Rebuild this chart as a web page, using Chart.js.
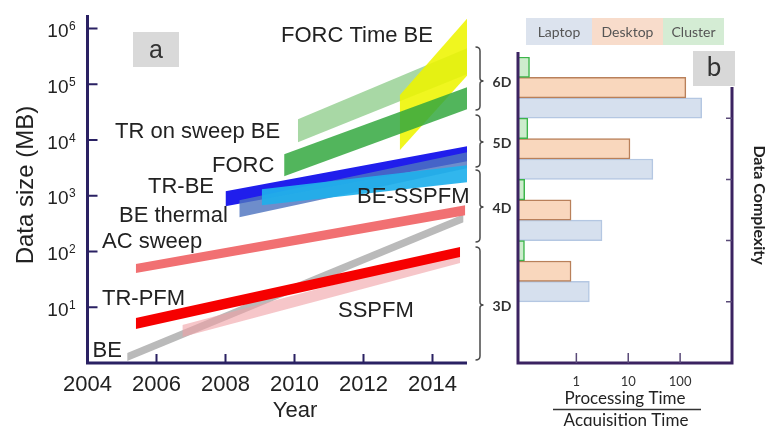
<!DOCTYPE html>
<html>
<head>
<meta charset="utf-8">
<script src="https://cdn.jsdelivr.net/npm/chart.js@4.4.1/dist/chart.umd.min.js"></script>
<style>
  html, body { margin: 0; padding: 0; background: #ffffff; }
  #wrap { position: relative; width: 766px; height: 426px; overflow: hidden; }
  #wrap canvas { position: absolute; left: 0; top: 0; }
</style>
</head>
<body>
<div id="wrap">
  <canvas id="growth" width="766" height="426"></canvas>
  <canvas id="speed" width="766" height="426"></canvas>
</div>
<script>
// ---------- Panel a: data size of each technique over the years ----------
const yearTicks = [2004, 2006, 2008, 2010, 2012, 2014];
const sizeTicks = [10, 100, 1000, 10000, 100000, 1000000];

// listed from the band drawn on top to the band drawn underneath
const bandNames = ['FORC', 'FORC Time BE', 'TR on sweep BE', 'BE-SSPFM', 'BE thermal',
                   'TR-BE', 'AC sweep', 'TR-PFM', 'SSPFM', 'BE'];
const bandYears = [[2009.7, 2015], [2013.05, 2015], [2010.1, 2015], [2009.05, 2015], [2008.4, 2015],
                   [2008, 2015], [2005.4, 2014.95], [2005.4, 2014.8], [2006.75, 2014.8], [2005.15, 2014.9]];
const bandLow  = [[2245, 35600], [6560, 143000], [9140, 151000], [679, 1753], [413, 3125],
                  [651, 4170], [41, 449], [4.07, 79.4], [2.92, 62], [1.09, 336]];
const bandHigh = [[5570, 88400], [63500, 1500000], [23600, 442000], [1313, 3535], [834, 6040],
                  [1210, 7740], [59.5, 679], [6.4, 120], [4.8, 102], [1.51, 468]];
const bandColors = ['rgba(52,168,64,0.85)', 'rgba(238,245,0,0.88)', 'rgba(110,190,105,0.6)',
                    'rgba(32,176,236,0.92)', 'rgba(78,116,192,0.82)', 'rgb(32,30,236)',
                    'rgb(241,112,114)', 'rgb(246,0,0)', 'rgba(240,160,165,0.6)', 'rgb(186,186,186)'];

// ---------- Panel b: processing / acquisition time ratio ----------
const complexity = ['6D', '5D', '4D', '3D', ''];
const clusterRatio = [0.125, 0.116, 0.101, 0.1, null];
const desktopRatio = [129, 10.8, 0.79, 0.79, null];
const laptopRatio  = [261, 29.9, 3.12, 1.78, null];
const ratioTicks = [1, 10, 100];

const SANS = "'Liberation Sans', Arial, sans-serif";
const SOFT = "Lato, 'Open Sans', sans-serif";
const AXIS_A = '#2a2163';
const AXIS_B = '#3b2361';

Chart.defaults.animation = false;

// ----- panel a -----
const growthSets = [];
bandNames.forEach((name, i) => {
  const [x0, x1] = bandYears[i];
  growthSets.push({
    label: name + ' (lower)',
    data: [{ x: x0, y: bandLow[i][0] }, { x: x1, y: bandLow[i][1] }],
    borderWidth: 0, borderColor: 'transparent', pointRadius: 0, fill: false, order: i
  });
  growthSets.push({
    label: name,
    data: [{ x: x0, y: bandHigh[i][0] }, { x: x1, y: bandHigh[i][1] }],
    borderWidth: 0, borderColor: 'transparent', pointRadius: 0,
    backgroundColor: bandColors[i], fill: '-1', order: i
  });
});

// label text, left x, baseline y
const bandLabels = [
  ['FORC Time BE', 281, 42], ['TR on sweep BE', 115, 138], ['FORC', 212, 172],
  ['TR-BE', 148, 193], ['BE-SSPFM', 357, 203], ['BE thermal', 119, 221.5],
  ['AC sweep', 102, 248], ['TR-PFM', 102, 304.5], ['SSPFM', 338, 316.5], ['BE', 92.5, 357]
];

const growthDecor = {
  id: 'growthDecor',
  afterDatasetsDraw(chart) {
    const { ctx, chartArea: a, scales: { x, y } } = chart;
    ctx.save();
    // axis lines
    ctx.strokeStyle = AXIS_A; ctx.lineWidth = 3;
    ctx.beginPath();
    ctx.moveTo(a.left, a.top); ctx.lineTo(a.left, a.bottom);
    ctx.moveTo(a.left - 1.5, a.bottom); ctx.lineTo(a.right, a.bottom);
    ctx.stroke();
    // inward ticks
    ctx.lineWidth = 2;
    ctx.beginPath();
    sizeTicks.forEach(v => { const py = y.getPixelForValue(v); ctx.moveTo(a.left + 1.5, py); ctx.lineTo(a.left + 10, py); });
    yearTicks.slice(1).forEach(v => { const px = x.getPixelForValue(v); ctx.moveTo(px, a.bottom); ctx.lineTo(px, a.bottom - 9); });
    ctx.stroke();
    // y tick labels 10^n
    ctx.fillStyle = '#222';
    sizeTicks.forEach(v => {
      const py = y.getPixelForValue(v);
      const exp = Math.round(Math.log10(v));
      ctx.font = '19px ' + SANS; ctx.textAlign = 'right'; ctx.textBaseline = 'alphabetic';
      ctx.fillText('10', 68.5, py + 8.5);
      ctx.font = '12px ' + SANS; ctx.textAlign = 'left';
      ctx.fillText(String(exp), 69, py + 1.5);
    });
    // x tick labels
    ctx.font = '22px ' + SANS; ctx.textAlign = 'center';
    yearTicks.forEach(v => ctx.fillText(String(v), x.getPixelForValue(v), 391));
    // axis titles
    ctx.fillText('Year', 295, 417);
    ctx.save();
    ctx.translate(33, 185); ctx.rotate(-Math.PI / 2);
    ctx.font = '24px ' + SANS;
    ctx.fillText('Data size (MB)', 0, 0);
    ctx.restore();
    // band names
    ctx.font = '22px ' + SANS; ctx.textAlign = 'left'; ctx.fillStyle = '#222';
    bandLabels.forEach(([t, lx, ly]) => ctx.fillText(t, lx, ly));
    // panel tag
    ctx.fillStyle = '#d9d9d9'; ctx.fillRect(133, 32, 46, 35);
    ctx.fillStyle = '#333'; ctx.font = '25px ' + SANS; ctx.textAlign = 'center';
    ctx.fillText('a', 156, 58);
    ctx.restore();
  }
};

new Chart(document.getElementById('growth'), {
  type: 'line',
  data: { datasets: growthSets },
  options: {
    responsive: false, devicePixelRatio: 1, animation: false,
    layout: { padding: { left: 87.5, top: 15, right: 299, bottom: 63 } },
    plugins: { legend: { display: false }, tooltip: { enabled: false } },
    scales: {
      x: { type: 'linear', min: 2004, max: 2015, display: false },
      y: { type: 'logarithmic', min: 1, max: 1750000, display: false }
    }
  },
  plugins: [growthDecor]
});

// ----- panel b -----
// brace spans: top, bottom, middle (y)
const braces = [[47, 110, 81], [115, 167, 142], [170, 242, 207], [247, 360, 305]];

const speedDecor = {
  id: 'speedDecor',
  afterDatasetsDraw(chart) {
    const { ctx, chartArea: a, scales: { x, y } } = chart;
    ctx.save();
    // axes
    ctx.strokeStyle = AXIS_B; ctx.lineWidth = 3;
    ctx.beginPath();
    ctx.moveTo(a.left, 52); ctx.lineTo(a.left, a.bottom);
    ctx.moveTo(a.left - 1.5, a.bottom); ctx.lineTo(a.right + 1.5, a.bottom);
    ctx.moveTo(a.right, 87); ctx.lineTo(a.right, a.bottom);
    ctx.stroke();
    // ticks
    ctx.lineWidth = 1.5; ctx.strokeStyle = '#5a4a78';
    ctx.beginPath();
    ratioTicks.forEach(v => { const px = x.getPixelForValue(v); ctx.moveTo(px, a.bottom); ctx.lineTo(px, a.bottom - 10); });
    for (let i = 0; i < complexity.length - 1; i++) {
      const py = (y.getPixelForValue(i) + y.getPixelForValue(i + 1)) / 2;
      ctx.moveTo(a.right, py); ctx.lineTo(a.right - 6, py);
    }
    ctx.stroke();
    ctx.fillStyle = '#333'; ctx.font = '13px ' + SOFT; ctx.textAlign = 'center'; ctx.textBaseline = 'alphabetic';
    ratioTicks.forEach(v => ctx.fillText(String(v), x.getPixelForValue(v), 386));
    // x title as a fraction
    ctx.font = '17px ' + SOFT; ctx.fillStyle = '#222';
    ctx.fillText('Processing Time', 625, 404);
    ctx.fillText('Acquisition Time', 626, 426);
    ctx.strokeStyle = '#333'; ctx.lineWidth = 1.5;
    ctx.beginPath(); ctx.moveTo(553, 409.5); ctx.lineTo(701, 409.5); ctx.stroke();
    // braces with complexity labels
    ctx.strokeStyle = '#4a4a4a'; ctx.lineWidth = 1.5;
    braces.forEach(([t, b, m], i) => {
      const bx = 480;
      ctx.beginPath();
      ctx.moveTo(475.5, t); ctx.quadraticCurveTo(bx, t, bx, t + 4);
      ctx.lineTo(bx, m - 3); ctx.quadraticCurveTo(bx, m, bx + 3.5, m);
      ctx.quadraticCurveTo(bx, m, bx, m + 3);
      ctx.lineTo(bx, b - 4); ctx.quadraticCurveTo(bx, b, 475.5, b);
      ctx.stroke();
      ctx.font = 'bold 14px ' + SOFT; ctx.fillStyle = '#333'; ctx.textAlign = 'center'; ctx.textBaseline = 'middle';
      ctx.fillText(complexity[i], 502, m + 1);
    });
    // right title
    ctx.save();
    ctx.translate(759, 205); ctx.rotate(Math.PI / 2);
    ctx.font = 'bold 16px ' + SOFT; ctx.fillStyle = '#222'; ctx.textAlign = 'center'; ctx.textBaseline = 'middle';
    ctx.fillText('Data Complexity', 0, 0);
    ctx.restore();
    // legend boxes (Laptop, Desktop, Cluster)
    const legend = [[2, 526, 592], [1, 592, 663], [0, 663, 724]];
    ctx.font = '14px ' + SOFT; ctx.textAlign = 'center'; ctx.textBaseline = 'middle';
    legend.forEach(([d, l, r]) => {
      const ds = chart.data.datasets[d];
      ctx.fillStyle = ds.legendFill; ctx.fillRect(l, 18, r - l, 27);
      ctx.fillStyle = '#555'; ctx.fillText(ds.label, (l + r) / 2, 32);
    });
    // panel tag
    ctx.fillStyle = '#d8d8d8'; ctx.fillRect(693, 51, 42, 35);
    ctx.fillStyle = '#333'; ctx.font = '26px ' + SOFT; ctx.textBaseline = 'alphabetic';
    ctx.fillText('b', 714, 76);
    ctx.restore();
  }
};

new Chart(document.getElementById('speed'), {
  type: 'bar',
  data: {
    labels: complexity,
    datasets: [
      { label: 'Cluster', data: clusterRatio, backgroundColor: '#cdeccd', borderColor: '#3cb54a',
        legendFill: '#d4ecd4', borderWidth: 1.5 },
      { label: 'Desktop', data: desktopRatio, backgroundColor: '#f9d7bd', borderColor: '#b9805a',
        legendFill: '#f8dccb', borderWidth: 1.5 },
      { label: 'Laptop', data: laptopRatio, backgroundColor: '#d6e0ee', borderColor: '#b4c7e2',
        legendFill: '#dce3ee', borderWidth: 1.5 }
    ]
  },
  options: {
    indexAxis: 'y', responsive: false, devicePixelRatio: 1, animation: false,
    categoryPercentage: 1, barPercentage: 1,
    layout: { padding: { left: 518, top: 57, right: 34, bottom: 63 } },
    plugins: { legend: { display: false }, tooltip: { enabled: false } },
    scales: {
      x: { type: 'logarithmic', min: 0.075, max: 1000, display: false },
      y: { type: 'category', display: false }
    }
  },
  plugins: [speedDecor]
});
</script>
</body>
</html>
